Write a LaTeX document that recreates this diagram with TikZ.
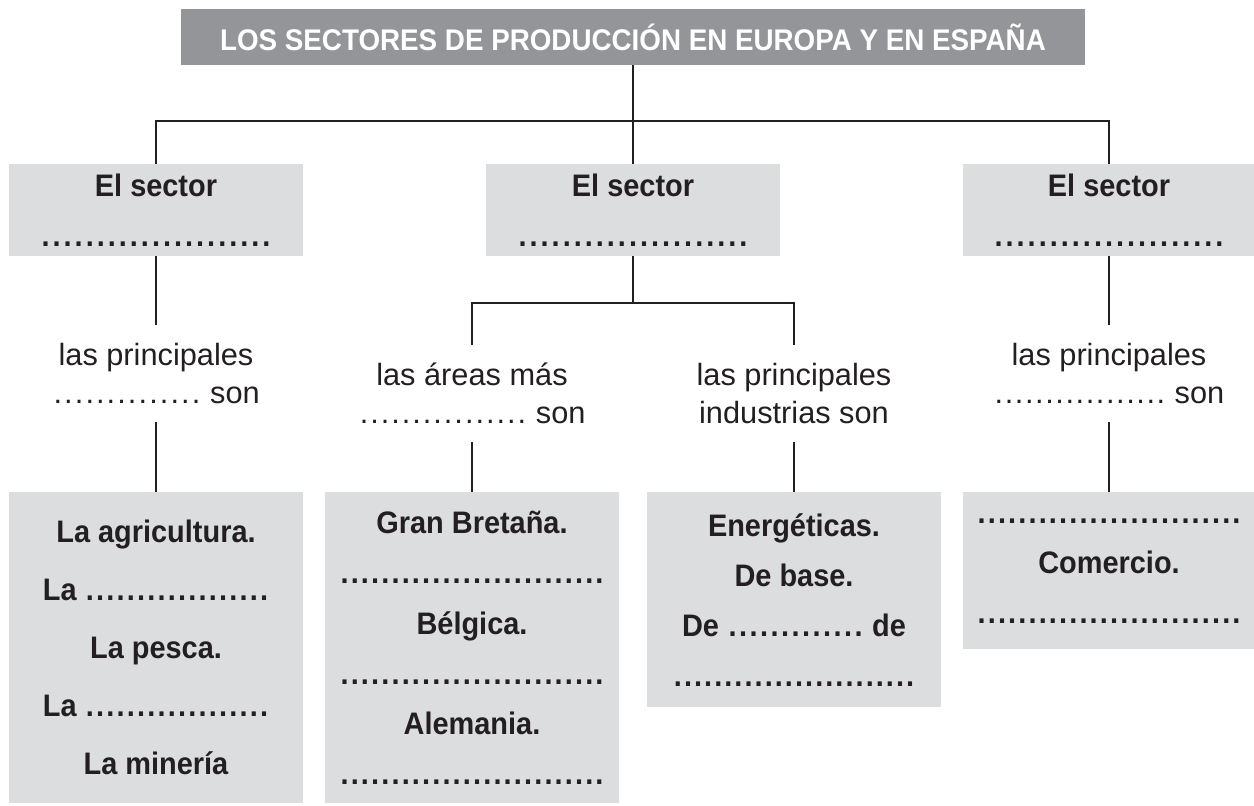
\documentclass[tikz,border=0pt]{standalone}
\usepackage{fontspec}
\setmainfont{Liberation Sans}
\newfontfamily\estrecha[FakeStretch=0.93]{Liberation Sans}
\usepackage{xcolor}
\usepackage{tikz}
\usetikzlibrary{positioning,calc}

\definecolor{grisoscuro}{RGB}{147,149,152}
\definecolor{grisclaro}{RGB}{220,221,223}
\definecolor{tinta}{RGB}{35,31,32}

\newcommand{\puntos}[2][6pt]{\hbox to #2{\xleaders\hbox to #1{\hss.\hss}\hfill}}

\begin{document}
\begin{tikzpicture}[
    x=0.02cm, y=-0.02cm,
    titulo/.style={rectangle, fill=grisoscuro, text=white, inner sep=0pt, minimum width=18.08cm, minimum height=1.12cm, font=\estrecha\bfseries\fontsize{17}{20}\selectfont},
    sector/.style={rectangle, fill=grisclaro, text=tinta, inner sep=0pt, minimum width=5.88cm, minimum height=1.84cm, align=center, font=\estrecha\bfseries\fontsize{17.7}{28.5}\selectfont},
    rotulo/.style={inner sep=0pt, minimum height=1.94cm, align=center, text=tinta, font=\fontsize{17.5}{21.6}\selectfont},
    caja/.style={rectangle, fill=grisclaro, text=tinta, anchor=north, inner sep=0pt, minimum width=5.88cm, align=center, font=\estrecha\bfseries\fontsize{17.7}{28.5}\selectfont},
    linea/.style={draw=tinta, line width=1.1pt}
]
\useasboundingbox (0,0) rectangle (1254,805);

\node[titulo] (titulo) at (633,37) {LOS SECTORES DE PRODUCCIÓN EN EUROPA Y EN ESPAÑA};

\node[sector] (primario) at (156,210) {El sector\\ \puntos[6.2pt]{132pt}};
\node[sector] (secundario) at (633,210) {El sector\\ \puntos[6.2pt]{132pt}};
\node[sector, minimum width=5.84cm] (terciario) at (1109,210) {El sector\\ \puntos[6.2pt]{132pt}};

\coordinate (bus) at (633,121);
\coordinate (rama) at (633,303);

\node[rotulo] (activ) at (156,373.5) {las principales\\ \puntos[5.7pt]{85pt} son};
\node[rotulo] (areas) at (472,393.5) {las áreas más\\ \puntos[5.7pt]{96pt} son};
\node[rotulo] (indus) at (794,393.5) {las principales\\ industrias son};
\node[rotulo] (servic) at (1109,373.5) {las principales\\ \puntos[5.7pt]{98pt} son};

\node[caja, minimum height=6.22cm, font=\estrecha\bfseries\fontsize{17.7}{33}\selectfont] (agraria) at (156,492)
    {La agricultura.\\ La \puntos[5.8pt]{105pt}\\ La pesca.\\ La \puntos[5.8pt]{105pt}\\ La minería};
\node[caja, minimum height=6.22cm] (paises) at (472,492)
    {Gran Bretaña.\\ \puntos[5.6pt]{151pt}\\ Bélgica.\\ \puntos[5.6pt]{151pt}\\ Alemania.\\ \puntos[5.6pt]{151pt}};
\node[caja, minimum height=4.3cm] (tipos) at (794,492)
    {Energéticas.\\ De base.\\ De \puntos[5.6pt]{78pt} de\\ \puntos[5.6pt]{138pt}};
\node[caja, minimum width=5.84cm, minimum height=3.14cm] (servicios) at (1109,492)
    {\puntos[5.6pt]{151pt}\\ Comercio.\\ \puntos[5.6pt]{151pt}};

\draw[linea] (titulo.south) -- (bus);
\draw[linea, line width=1.5pt] (primario.north) |- (bus) -| (terciario.north);
\draw[linea] (bus) -- (secundario.north);

\draw[linea] (primario.south) -- (activ.north);
\draw[linea] (activ.south) -- (agraria.north);

\draw[linea] (secundario.south) -- (rama);
\draw[linea] (areas.north) |- (rama) -| (indus.north);
\draw[linea] (areas.south) -- (paises.north);
\draw[linea] (indus.south) -- (tipos.north);

\draw[linea] (terciario.south) -- (servic.north);
\draw[linea] (servic.south) -- (servicios.north);

\end{tikzpicture}
\end{document}
